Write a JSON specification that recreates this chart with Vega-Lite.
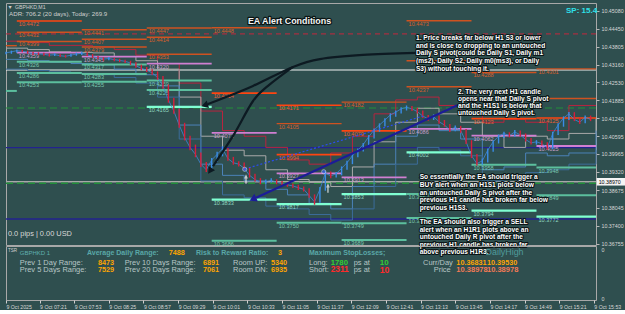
{
"$schema": "https://vega.github.io/schema/vega-lite/v6.json",
"background": "#2f4f4f",
"padding": {"left": 3, "top": 2, "right": 0, "bottom": 0},
"bounds": "flush",
"config": {"font": "Liberation Sans", "view": {"stroke": "#a8a8a8", "strokeWidth": 1}, "text": {"font": "Liberation Sans"}},
"spacing": 1,
"datasets": {
"candles": [
{"t":410,"l":10.4353,"h":10.4362,"p":10.4358,"d":"u"},{"t":415,"l":10.4355,"h":10.4366,"p":10.4362,"d":"u"},{"t":420,"l":10.4359,"h":10.4370,"p":10.4366,"d":"u"},{"t":425,"l":10.4360,"h":10.4369,"p":10.4364,"d":"d"},{"t":430,"l":10.4355,"h":10.4366,"p":10.4360,"d":"d"},{"t":435,"l":10.4351,"h":10.4362,"p":10.4356,"d":"d"},{"t":440,"l":10.4350,"h":10.4360,"p":10.4355,"d":"d"},{"t":445,"l":10.4348,"h":10.4359,"p":10.4353,"d":"d"},{"t":450,"l":10.4345,"h":10.4356,"p":10.4350,"d":"d"},{"t":455,"l":10.4347,"h":10.4357,"p":10.4352,"d":"u"},{"t":460,"l":10.4343,"h":10.4354,"p":10.4348,"d":"d"},{"t":465,"l":10.4341,"h":10.4351,"p":10.4346,"d":"d"},{"t":470,"l":10.4344,"h":10.4355,"p":10.4350,"d":"u"},{"t":475,"l":10.4348,"h":10.4359,"p":10.4354,"d":"u"},{"t":480,"l":10.4351,"h":10.4362,"p":10.4357,"d":"u"},{"t":485,"l":10.4347,"h":10.4360,"p":10.4352,"d":"d"},{"t":490,"l":10.4339,"h":10.4354,"p":10.4345,"d":"d"},{"t":495,"l":10.4335,"h":10.4347,"p":10.4340,"d":"d"},{"t":500,"l":10.4330,"h":10.4342,"p":10.4336,"d":"d"},{"t":505,"l":10.4332,"h":10.4343,"p":10.4338,"d":"u"},{"t":510,"l":10.4328,"h":10.4340,"p":10.4334,"d":"d"},{"t":515,"l":10.4325,"h":10.4337,"p":10.4331,"d":"d"},{"t":520,"l":10.4322,"h":10.4334,"p":10.4328,"d":"d"},{"t":525,"l":10.4315,"h":10.4330,"p":10.4322,"d":"d"},{"t":530,"l":10.4305,"h":10.4325,"p":10.4312,"d":"d"},{"t":535,"l":10.4296,"h":10.4316,"p":10.4303,"d":"d"},{"t":540,"l":10.4290,"h":10.4308,"p":10.4296,"d":"d"},{"t":545,"l":10.4280,"h":10.4300,"p":10.4287,"d":"d"},{"t":550,"l":10.4262,"h":10.4292,"p":10.4270,"d":"d"},{"t":555,"l":10.4230,"h":10.4275,"p":10.4240,"d":"d"},{"t":560,"l":10.4180,"h":10.4245,"p":10.4190,"d":"d"},{"t":565,"l":10.4140,"h":10.4198,"p":10.4150,"d":"d"},{"t":570,"l":10.4090,"h":10.4158,"p":10.4100,"d":"d"},{"t":575,"l":10.4045,"h":10.4108,"p":10.4055,"d":"d"},{"t":580,"l":10.4010,"h":10.4062,"p":10.4020,"d":"d"},{"t":585,"l":10.3985,"h":10.4030,"p":10.3995,"d":"d"},{"t":590,"l":10.3950,"h":10.4002,"p":10.3960,"d":"d"},{"t":595,"l":10.3932,"h":10.3968,"p":10.3940,"d":"d"},{"t":600,"l":10.3938,"h":10.3982,"p":10.3975,"d":"u"},{"t":605,"l":10.3968,"h":10.4004,"p":10.3995,"d":"u"},{"t":610,"l":10.3988,"h":10.4024,"p":10.4015,"d":"u"},{"t":615,"l":10.3972,"h":10.4018,"p":10.3980,"d":"d"},{"t":620,"l":10.3958,"h":10.3986,"p":10.3965,"d":"d"},{"t":625,"l":10.3952,"h":10.3970,"p":10.3960,"d":"d"},{"t":630,"l":10.3938,"h":10.3966,"p":10.3945,"d":"d"},{"t":635,"l":10.3912,"h":10.3950,"p":10.3920,"d":"d"},{"t":640,"l":10.3898,"h":10.3926,"p":10.3905,"d":"d"},{"t":645,"l":10.3888,"h":10.3910,"p":10.3895,"d":"d"},{"t":650,"l":10.3890,"h":10.3905,"p":10.3898,"d":"u"},{"t":655,"l":10.3894,"h":10.3910,"p":10.3902,"d":"u"},{"t":660,"l":10.3888,"h":10.3906,"p":10.3895,"d":"d"},{"t":665,"l":10.3882,"h":10.3900,"p":10.3890,"d":"d"},{"t":670,"l":10.3879,"h":10.3895,"p":10.3886,"d":"d"},{"t":675,"l":10.3875,"h":10.3891,"p":10.3882,"d":"d"},{"t":680,"l":10.3868,"h":10.3886,"p":10.3876,"d":"d"},{"t":685,"l":10.3862,"h":10.3880,"p":10.3870,"d":"d"},{"t":690,"l":10.3840,"h":10.3874,"p":10.3848,"d":"d"},{"t":695,"l":10.3815,"h":10.3852,"p":10.3825,"d":"d"},{"t":700,"l":10.3822,"h":10.3878,"p":10.3870,"d":"u"},{"t":705,"l":10.3865,"h":10.3936,"p":10.3928,"d":"u"},{"t":710,"l":10.3910,"h":10.3934,"p":10.3918,"d":"d"},{"t":715,"l":10.3912,"h":10.3932,"p":10.3926,"d":"u"},{"t":720,"l":10.3920,"h":10.3952,"p":10.3945,"d":"u"},{"t":725,"l":10.3940,"h":10.3972,"p":10.3965,"d":"u"},{"t":730,"l":10.3960,"h":10.3996,"p":10.3990,"d":"u"},{"t":735,"l":10.3985,"h":10.4016,"p":10.4010,"d":"u"},{"t":740,"l":10.4005,"h":10.4036,"p":10.4030,"d":"u"},{"t":745,"l":10.4026,"h":10.4064,"p":10.4058,"d":"u"},{"t":750,"l":10.4052,"h":10.4088,"p":10.4082,"d":"u"},{"t":755,"l":10.4076,"h":10.4106,"p":10.4100,"d":"u"},{"t":760,"l":10.4095,"h":10.4124,"p":10.4118,"d":"u"},{"t":765,"l":10.4112,"h":10.4142,"p":10.4136,"d":"u"},{"t":770,"l":10.4130,"h":10.4152,"p":10.4146,"d":"u"},{"t":775,"l":10.4141,"h":10.4164,"p":10.4158,"d":"u"},{"t":780,"l":10.4152,"h":10.4170,"p":10.4163,"d":"u"},{"t":785,"l":10.4150,"h":10.4168,"p":10.4158,"d":"d"},{"t":790,"l":10.4141,"h":10.4162,"p":10.4148,"d":"d"},{"t":795,"l":10.4125,"h":10.4152,"p":10.4132,"d":"d"},{"t":800,"l":10.4115,"h":10.4136,"p":10.4122,"d":"d"},{"t":805,"l":10.4118,"h":10.4138,"p":10.4130,"d":"u"},{"t":810,"l":10.4105,"h":10.4134,"p":10.4112,"d":"d"},{"t":815,"l":10.4094,"h":10.4118,"p":10.4100,"d":"d"},{"t":820,"l":10.4075,"h":10.4104,"p":10.4082,"d":"d"},{"t":825,"l":10.4078,"h":10.4098,"p":10.4092,"d":"u"},{"t":830,"l":10.4072,"h":10.4097,"p":10.4080,"d":"d"},{"t":835,"l":10.4032,"h":10.4086,"p":10.4040,"d":"d"},{"t":840,"l":10.3982,"h":10.4046,"p":10.3990,"d":"d"},{"t":845,"l":10.3955,"h":10.3996,"p":10.3962,"d":"d"},{"t":850,"l":10.3958,"h":10.3980,"p":10.3972,"d":"u"},{"t":855,"l":10.3966,"h":10.4016,"p":10.4010,"d":"u"},{"t":860,"l":10.4004,"h":10.4046,"p":10.4040,"d":"u"},{"t":865,"l":10.4034,"h":10.4066,"p":10.4060,"d":"u"},{"t":870,"l":10.4054,"h":10.4076,"p":10.4070,"d":"u"},{"t":875,"l":10.4056,"h":10.4074,"p":10.4062,"d":"d"},{"t":880,"l":10.4058,"h":10.4082,"p":10.4075,"d":"u"},{"t":885,"l":10.4058,"h":10.4080,"p":10.4065,"d":"d"},{"t":890,"l":10.4041,"h":10.4070,"p":10.4048,"d":"d"},{"t":895,"l":10.4030,"h":10.4054,"p":10.4036,"d":"d"},{"t":900,"l":10.4030,"h":10.4046,"p":10.4040,"d":"u"},{"t":905,"l":10.4027,"h":10.4045,"p":10.4033,"d":"d"},{"t":910,"l":10.4012,"h":10.4038,"p":10.4018,"d":"d"},{"t":915,"l":10.4014,"h":10.4076,"p":10.4070,"d":"u"},{"t":920,"l":10.4064,"h":10.4106,"p":10.4100,"d":"u"},{"t":925,"l":10.4094,"h":10.4131,"p":10.4125,"d":"u"},{"t":930,"l":10.4118,"h":10.4147,"p":10.4140,"d":"u"},{"t":935,"l":10.4114,"h":10.4146,"p":10.4120,"d":"d"},{"t":940,"l":10.4104,"h":10.4126,"p":10.4110,"d":"d"},{"t":945,"l":10.4106,"h":10.4134,"p":10.4128,"d":"u"},{"t":950,"l":10.4114,"h":10.4134,"p":10.4120,"d":"d"}
],
"bands": [
{"t":410,"p":10.4400,"b":"hi"},{"t":430,"p":10.4395,"b":"hi"},{"t":450,"p":10.4385,"b":"hi"},{"t":470,"p":10.4385,"b":"hi"},{"t":490,"p":10.4380,"b":"hi"},{"t":510,"p":10.4370,"b":"hi"},{"t":530,"p":10.4350,"b":"hi"},{"t":550,"p":10.4320,"b":"hi"},{"t":570,"p":10.4250,"b":"hi"},{"t":590,"p":10.4150,"b":"hi"},{"t":610,"p":10.4080,"b":"hi"},{"t":630,"p":10.4060,"b":"hi"},{"t":650,"p":10.4020,"b":"hi"},{"t":670,"p":10.3975,"b":"hi"},{"t":690,"p":10.3960,"b":"hi"},{"t":710,"p":10.4000,"b":"hi"},{"t":730,"p":10.4060,"b":"hi"},{"t":750,"p":10.4140,"b":"hi"},{"t":770,"p":10.4190,"b":"hi"},{"t":790,"p":10.4200,"b":"hi"},{"t":810,"p":10.4170,"b":"hi"},{"t":830,"p":10.4150,"b":"hi"},{"t":850,"p":10.4110,"b":"hi"},{"t":870,"p":10.4120,"b":"hi"},{"t":890,"p":10.4110,"b":"hi"},{"t":910,"p":10.4080,"b":"hi"},{"t":930,"p":10.4170,"b":"hi"},{"t":955,"p":10.4170,"b":"hi"},
{"t":410,"p":10.4375,"b":"mid"},{"t":430,"p":10.4370,"b":"mid"},{"t":450,"p":10.4362,"b":"mid"},{"t":470,"p":10.4360,"b":"mid"},{"t":490,"p":10.4358,"b":"mid"},{"t":510,"p":10.4345,"b":"mid"},{"t":530,"p":10.4330,"b":"mid"},{"t":550,"p":10.4300,"b":"mid"},{"t":570,"p":10.4200,"b":"mid"},{"t":590,"p":10.4060,"b":"mid"},{"t":610,"p":10.4010,"b":"mid"},{"t":630,"p":10.3990,"b":"mid"},{"t":650,"p":10.3940,"b":"mid"},{"t":670,"p":10.3905,"b":"mid"},{"t":690,"p":10.3895,"b":"mid"},{"t":710,"p":10.3880,"b":"mid"},{"t":730,"p":10.3950,"b":"mid"},{"t":750,"p":10.4040,"b":"mid"},{"t":770,"p":10.4110,"b":"mid"},{"t":790,"p":10.4160,"b":"mid"},{"t":810,"p":10.4140,"b":"mid"},{"t":830,"p":10.4110,"b":"mid"},{"t":850,"p":10.4060,"b":"mid"},{"t":870,"p":10.4020,"b":"mid"},{"t":890,"p":10.4060,"b":"mid"},{"t":910,"p":10.4050,"b":"mid"},{"t":930,"p":10.4070,"b":"mid"},{"t":955,"p":10.4125,"b":"mid"},
{"t":410,"p":10.4335,"b":"lo"},{"t":430,"p":10.4330,"b":"lo"},{"t":450,"p":10.4325,"b":"lo"},{"t":470,"p":10.4320,"b":"lo"},{"t":490,"p":10.4315,"b":"lo"},{"t":510,"p":10.4300,"b":"lo"},{"t":530,"p":10.4280,"b":"lo"},{"t":550,"p":10.4240,"b":"lo"},{"t":570,"p":10.4100,"b":"lo"},{"t":590,"p":10.3960,"b":"lo"},{"t":610,"p":10.3920,"b":"lo"},{"t":630,"p":10.3900,"b":"lo"},{"t":650,"p":10.3870,"b":"lo"},{"t":670,"p":10.3850,"b":"lo"},{"t":690,"p":10.3820,"b":"lo"},{"t":710,"p":10.3800,"b":"lo"},{"t":730,"p":10.3880,"b":"lo"},{"t":750,"p":10.3960,"b":"lo"},{"t":770,"p":10.4060,"b":"lo"},{"t":790,"p":10.4100,"b":"lo"},{"t":810,"p":10.4080,"b":"lo"},{"t":830,"p":10.4050,"b":"lo"},{"t":850,"p":10.3940,"b":"lo"},{"t":870,"p":10.3950,"b":"lo"},{"t":890,"p":10.4000,"b":"lo"},{"t":910,"p":10.3990,"b":"lo"},{"t":930,"p":10.4000,"b":"lo"},{"t":955,"p":10.4080,"b":"lo"},
{"t":410,"p":10.4300,"b":"lo2"},{"t":430,"p":10.4295,"b":"lo2"},{"t":450,"p":10.4290,"b":"lo2"},{"t":470,"p":10.4285,"b":"lo2"},{"t":490,"p":10.4280,"b":"lo2"},{"t":510,"p":10.4270,"b":"lo2"},{"t":530,"p":10.4250,"b":"lo2"},{"t":550,"p":10.4200,"b":"lo2"},{"t":570,"p":10.4050,"b":"lo2"},{"t":590,"p":10.3900,"b":"lo2"},{"t":610,"p":10.3850,"b":"lo2"},{"t":630,"p":10.3840,"b":"lo2"},{"t":650,"p":10.3810,"b":"lo2"},{"t":670,"p":10.3800,"b":"lo2"},{"t":690,"p":10.3780,"b":"lo2"},{"t":710,"p":10.3760,"b":"lo2"},{"t":730,"p":10.3800,"b":"lo2"},{"t":750,"p":10.3880,"b":"lo2"},{"t":770,"p":10.3960,"b":"lo2"},{"t":790,"p":10.4020,"b":"lo2"},{"t":810,"p":10.4010,"b":"lo2"},{"t":830,"p":10.3990,"b":"lo2"},{"t":850,"p":10.3900,"b":"lo2"},{"t":870,"p":10.3890,"b":"lo2"},{"t":890,"p":10.3930,"b":"lo2"},{"t":910,"p":10.3940,"b":"lo2"},{"t":930,"p":10.3960,"b":"lo2"},{"t":955,"p":10.4010,"b":"lo2"}
],
"hlines": [
{"t":410,"t2":955,"p":10.4426,"k":"ph"},{"t":410,"t2":955,"p":10.4297,"k":"do"},{"t":410,"t2":955,"p":10.4161,"k":"ws1"},{"t":410,"t2":955,"p":10.4019,"k":"wp"},{"t":410,"t2":955,"p":10.3897,"k":"bid"},{"t":410,"t2":955,"p":10.3892,"k":"ws2"},{"t":410,"t2":955,"p":10.3764,"k":"ws3"}
],
"levels": [
{"t":410,"t2":420,"p":10.4384,"k":"R","h":1},{"t":410,"t2":420,"p":10.4222,"k":"S","h":1},
{"t":420,"t2":480,"p":10.4472,"k":"R*"},{"t":420,"t2":480,"p":10.4432,"k":"R"},{"t":420,"t2":480,"p":10.4399,"k":"R"},{"t":420,"t2":480,"p":10.4359,"k":"P"},{"t":420,"t2":480,"p":10.4326,"k":"S"},{"t":420,"t2":480,"p":10.4286,"k":"S"},{"t":420,"t2":480,"p":10.4253,"k":"S"},
{"t":480,"t2":540,"p":10.4441,"k":"R"},{"t":480,"t2":540,"p":10.4407,"k":"R"},{"t":480,"t2":540,"p":10.4379,"k":"R"},{"t":480,"t2":540,"p":10.4345,"k":"P"},{"t":480,"t2":540,"p":10.4317,"k":"S"},{"t":480,"t2":540,"p":10.4283,"k":"S"},{"t":480,"t2":540,"p":10.4255,"k":"S"},
{"t":540,"t2":600,"p":10.4447,"k":"R"},{"t":540,"t2":600,"p":10.4414,"k":"R"},{"t":540,"t2":600,"p":10.4353,"k":"R"},{"t":540,"t2":600,"p":10.4320,"k":"P"},{"t":540,"t2":600,"p":10.4259,"k":"S"},{"t":540,"t2":600,"p":10.4225,"k":"S"},{"t":540,"t2":600,"p":10.4165,"k":"S*"},
{"t":600,"t2":660,"p":10.4448,"k":"R"},{"t":600,"t2":660,"p":10.4214,"k":"R*"},{"t":600,"t2":660,"p":10.4072,"k":"P"},{"t":600,"t2":660,"p":10.3833,"k":"S*"},{"t":600,"t2":660,"p":10.3686,"k":"S"},
{"t":660,"t2":720,"p":10.4171,"k":"R*"},{"t":660,"t2":720,"p":10.4105,"k":"R"},{"t":660,"t2":720,"p":10.3994,"k":"R*"},{"t":660,"t2":720,"p":10.3927,"k":"P"},{"t":660,"t2":720,"p":10.3817,"k":"S*"},{"t":660,"t2":720,"p":10.3750,"k":"S"},
{"t":720,"t2":780,"p":10.4182,"k":"R"},{"t":720,"t2":780,"p":10.4079,"k":"R*"},{"t":720,"t2":780,"p":10.3913,"k":"P"},{"t":720,"t2":780,"p":10.3853,"k":"S*"},{"t":720,"t2":780,"p":10.3749,"k":"S"},{"t":720,"t2":780,"p":10.3689,"k":"S"},
{"t":780,"t2":840,"p":10.4473,"k":"R"},{"t":780,"t2":840,"p":10.4330,"k":"R","h":1},{"t":780,"t2":840,"p":10.4237,"k":"R"},{"t":780,"t2":840,"p":10.4086,"k":"P"},{"t":780,"t2":840,"p":10.4002,"k":"S*"},{"t":780,"t2":840,"p":10.3853,"k":"S"},{"t":780,"t2":840,"p":10.3767,"k":"S"},
{"t":840,"t2":900,"p":10.4288,"k":"R"},{"t":840,"t2":900,"p":10.4123,"k":"R*"},{"t":840,"t2":900,"p":10.4062,"k":"P"},{"t":840,"t2":900,"p":10.3958,"k":"S"},{"t":840,"t2":900,"p":10.3794,"k":"S*"},
{"t":900,"t2":955,"p":10.4301,"k":"R"},{"t":900,"t2":955,"p":10.4195,"k":"R","h":1},{"t":900,"t2":955,"p":10.4125,"k":"R*"},{"t":900,"t2":955,"p":10.4025,"k":"P"},{"t":900,"t2":955,"p":10.3948,"k":"S"},{"t":900,"t2":955,"p":10.3849,"k":"S"},{"t":900,"t2":955,"p":10.3772,"k":"S*"}
],
"arrows": [
{"t":788.7,"p":10.4358,"a":"c1","o":1},{"t":739.8,"p":10.4351,"a":"c1","o":2},{"t":700.0,"p":10.4336,"a":"c1","o":3},{"t":675.1,"p":10.4308,"a":"c1","o":4},{"t":638.2,"p":10.4240,"a":"c1","o":5},{"t":604.0,"p":10.4186,"a":"c1","o":6},{"t":596.0,"p":10.4175,"a":"c1","o":7},
{"t":675.1,"p":10.4308,"a":"c2","o":1},{"t":652.0,"p":10.4240,"a":"c2","o":2},{"t":638.2,"p":10.4186,"a":"c2","o":3},{"t":619.7,"p":10.4061,"a":"c2","o":4},{"t":601.2,"p":10.3953,"a":"c2","o":5},
{"t":827.5,"p":10.41717,"a":"s","o":1},{"t":641.0,"p":10.38400,"a":"s","o":2}
],
"heads": [
{"t":594.5,"p":10.4172,"a":"c1"},{"t":599.0,"p":10.3939,"a":"c2"},{"t":639.0,"p":10.38365,"a":"s"}
],
"signals": [
{"t":630.8,"p":10.3943,"g":"dl"},{"t":795.2,"p":10.4132,"g":"dl"},
{"t":630.5,"p":10.39416,"g":"dot"},{"t":703.5,"p":10.3933,"g":"dot"},
{"t":631.7,"p":10.39069,"g":"buy"},{"t":707.4,"p":10.38747,"g":"buy"}
],
"notes": [
{"t":633.5,"p":10.44722,"s":"EA Alert Conditions","g":"title"},
{"t":788.7,"p":10.44125,"s":"1. Price breaks far below H1 S3 or lower","g":"box"},
{"t":788.7,"p":10.43842,"s":"and is close to dropping to an untouched","g":"box"},
{"t":788.7,"p":10.43563,"s":"Daily S pivot(could be Daily S1, Daily m1","g":"box"},
{"t":788.7,"p":10.43288,"s":"(ms2), Daily S2, Daily m0(ms3), or Daily","g":"box"},
{"t":788.7,"p":10.43012,"s":"S3) without touching it.","g":"box"},
{"t":827.5,"p":10.42193,"s":"2. The very next H1 candle","g":"box"},
{"t":827.5,"p":10.41917,"s":"opens near that Daily S pivot","g":"box"},
{"t":827.5,"p":10.41670,"s":"and the H1S1 is below that","g":"box"},
{"t":827.5,"p":10.41413,"s":"untouched Daily S pivot.","g":"box"},
{"t":792.1,"p":10.39141,"s":"So essentially the EA should trigger a","g":"box"},
{"t":792.1,"p":10.38862,"s":"BUY alert when an H1S1 plots below","g":"box"},
{"t":792.1,"p":10.38586,"s":"an untouched Daily S pivot after the","g":"box"},
{"t":792.1,"p":10.38311,"s":"previous H1 candle has broken far below","g":"box"},
{"t":792.1,"p":10.38039,"s":"previous H1S3.","g":"box"},
{"t":792.1,"p":10.37531,"s":"The EA should also trigger a SELL","g":"box"},
{"t":792.1,"p":10.37262,"s":"alert when an H1R1 plots above an","g":"box"},
{"t":792.1,"p":10.36994,"s":"untouched Daily R pivot after the","g":"box"},
{"t":792.1,"p":10.36722,"s":"previous H1 candle has broken far","g":"box"},
{"t":792.1,"p":10.36450,"s":"above previous H1R3.","g":"box"}
],
"infos": [
{"t":411.5,"p":10.45223,"s":"▼","g":"sym"},
{"t":418.3,"p":10.45223,"s":"GBPHKD,M1","g":"sym"},
{"t":412.8,"p":10.44962,"s":"ADR: 706.2 (20 days), Today: 269.9","g":"adr"},
{"t":411.8,"p":10.37091,"s":"0.0 pips | 0.00 USD","g":"pips"},
{"t":927.3,"p":10.4508,"s":"SP: 15.4","g":"sp"}
],
"bid": [
{"t":955.6,"t2":984,"p":10.39105,"p2":10.38835,"m":10.3897,"s":"10.38970"}
],
"panel": [
{"t":411.8,"v":90.7,"s":"TSR","r":"tsr"},
{"t":422.7,"v":87.6,"s":"GBPHKD 1","r":"sym"},
{"t":484.8,"v":87.6,"s":"Average Daily Range:","r":"head"},
{"t":560.3,"v":87.6,"s":"7488","r":"val"},
{"t":585.5,"v":87.6,"s":"Risk to Reward Ratio:","r":"head"},
{"t":661.2,"v":87.6,"s":"3","r":"val"},
{"t":689.9,"v":87.6,"s":"Maximum StopLosses;","r":"head"},
{"t":853.0,"v":89.4,"s":"DailyHigh","r":"dh"},
{"t":422.7,"v":69.1,"s":"Prev 1 Day Range:","r":"lab"},
{"t":495.0,"v":69.1,"s":"8473","r":"val"},
{"t":519.6,"v":69.1,"s":"Prev 10 Days Range:","r":"lab"},
{"t":592.0,"v":69.1,"s":"6891","r":"val"},
{"t":619.7,"v":69.1,"s":"Room UP:","r":"lab"},
{"t":654.8,"v":69.1,"s":"5340","r":"val"},
{"t":689.9,"v":69.1,"s":"Long:","r":"lab"},
{"t":731.2,"v":69.1,"s":"ps at","r":"lab"},
{"t":709.9,"v":69.1,"s":"1780","r":"long"},
{"t":755.2,"v":69.1,"s":"10","r":"longn"},
{"t":795.2,"v":69.1,"s":"Curr/Day","r":"lab"},
{"t":826.0,"v":69.1,"s":"10.36831","r":"val"},
{"t":854.3,"v":69.1,"s":"10.39530","r":"val"},
{"t":422.7,"v":55.0,"s":"Prev 5 Days Range:","r":"lab"},
{"t":495.0,"v":55.0,"s":"7529","r":"val"},
{"t":519.6,"v":55.0,"s":"Prev 20 Days Range:","r":"lab"},
{"t":592.0,"v":55.0,"s":"7061","r":"val"},
{"t":619.7,"v":55.0,"s":"Room DN:","r":"lab"},
{"t":654.8,"v":55.0,"s":"6935","r":"val"},
{"t":689.9,"v":55.0,"s":"Short:","r":"lab"},
{"t":731.2,"v":55.0,"s":"ps at","r":"lab"},
{"t":709.9,"v":55.0,"s":"2311","r":"short"},
{"t":755.2,"v":55.0,"s":"10","r":"shortn"},
{"t":805.1,"v":55.0,"s":"Price","r":"lab"},
{"t":826.0,"v":55.0,"s":"10.38978","r":"price"},
{"t":854.3,"v":55.0,"s":"10.38978","r":"price"}
],
"ticks": [
{"p":10.4508},{"p":10.4445},{"p":10.43805},{"p":10.4316},{"p":10.4253},{"p":10.41885},{"p":10.4124},{"p":10.40595},{"p":10.39965},{"p":10.3932},{"p":10.38675},{"p":10.38045},{"p":10.374},{"p":10.36755}
]
},
"vconcat": [
{
"width": 590, "height": 242,
"encoding": {
"x": {"field": "t", "type": "quantitative", "scale": {"domain": [410, 955], "nice": false, "zero": false}, "axis": null},
"y": {"field": "p", "type": "quantitative", "scale": {"domain": [10.36708, 10.45366], "nice": false, "zero": false},
"axis": {"orient": "right", "values": [10.4508, 10.4445, 10.43805, 10.4316, 10.4253, 10.41885, 10.4124, 10.40595, 10.39965, 10.3932, 10.38675, 10.38045, 10.374, 10.36755], "format": ".5f", "title": null, "domain": false, "grid": false, "tickSize": 3, "tickColor": "#b8b8b8", "labelColor": "#d8d8d8", "labelFont": "Liberation Sans", "labelFontSize": 5.3, "labelPadding": 2}}
},
"resolve": {"scale": {"color": "independent", "size": "independent", "strokeDash": "independent"}},
"layer": [
{"data": {"name": "hlines"}, "mark": {"type": "rule"},
"encoding": {"x2": {"field": "t2"},
"color": {"field": "k", "type": "nominal", "legend": null, "scale": {"domain": ["ph","do","ws1","wp","bid","ws2","ws3"], "range": ["#c4283e","#f2f2f2","#22903a","#23238e","#a8a8a8","#22903a","#23238e"]}},
"strokeDash": {"field": "k", "type": "nominal", "legend": null, "scale": {"domain": ["ph","do","ws1","wp","bid","ws2","ws3"], "range": [[5,4],[1,0],[7,4],[1,0],[1,0],[7,4],[1,0]]}},
"size": {"field": "k", "type": "nominal", "legend": null, "scale": {"domain": ["ph","do","ws1","wp","bid","ws2","ws3"], "range": [1,1.5,1.2,1.6,1,1.2,1.6]}}}},
{"data": {"name": "bands"}, "mark": {"type": "line", "interpolate": "step-after", "strokeWidth": 1},
"encoding": {"color": {"field": "b", "type": "nominal", "legend": null, "scale": {"domain": ["hi","mid","lo","lo2"], "range": ["#b8243f","#a9a9a9","#4b82b8","#3c6c9a"]}}}},
{"data": {"name": "levels"}, "mark": {"type": "rule"},
"encoding": {"x2": {"field": "t2"},
"color": {"field": "k", "type": "nominal", "legend": null, "scale": {"domain": ["R","R*","P","S","S*"], "range": ["#cf5220","#ff4510","#d07fd2","#5cbf9e","#80ffd2"]}},
"size": {"field": "k", "type": "nominal", "legend": null, "scale": {"domain": ["R","R*","P","S","S*"], "range": [1.4,2.2,1.5,1.4,2.2]}}}},
{"data": {"name": "levels"}, "transform": [{"filter": "datum.h != 1"}],
"mark": {"type": "text", "align": "left", "baseline": "top", "dx": 2, "dy": 1, "fontSize": 5.6},
"encoding": {"text": {"field": "p", "type": "quantitative", "format": ".4f"},
"color": {"field": "k", "type": "nominal", "legend": null, "scale": {"domain": ["R","R*","P","S","S*"], "range": ["#d8602e","#e8603a","#c9a0c9","#7ac8ae","#8fd8c0"]}}}},
{"data": {"name": "candles"}, "mark": {"type": "line", "strokeWidth": 0.8, "color": "#3d86d8"}},
{"data": {"name": "candles"}, "mark": {"type": "rule", "strokeWidth": 1.4},
"encoding": {"y": {"field": "l", "type": "quantitative"}, "y2": {"field": "h"},
"color": {"field": "d", "type": "nominal", "legend": null, "scale": {"domain": ["u","d"], "range": ["#3a8ce6","#d61f3c"]}}}},
{"data": {"name": "signals"}, "transform": [{"filter": "datum.g == 'dl'"}], "mark": {"type": "line", "color": "#2b4ef0", "strokeWidth": 1.2, "strokeDash": [2,2]}},
{"data": {"name": "signals"}, "transform": [{"filter": "datum.g == 'dot'"}], "mark": {"type": "point", "filled": true, "color": "#3a66f0", "size": 18, "stroke": "#ffffff", "strokeWidth": 0.6}},
{"data": {"name": "signals"}, "transform": [{"filter": "datum.g == 'buy'"}], "mark": {"type": "point", "shape": "arrow", "filled": true, "color": "#ffffff", "size": 90}},
{"data": {"name": "arrows"}, "mark": {"type": "line", "interpolate": "cardinal"},
"encoding": {"detail": {"field": "a"}, "order": {"field": "o", "type": "quantitative"},
"color": {"field": "a", "type": "nominal", "legend": null, "scale": {"domain": ["c1","c2","s"], "range": ["#0d1a22","#0d1a22","#1c1c98"]}},
"size": {"field": "a", "type": "nominal", "legend": null, "scale": {"domain": ["c1","c2","s"], "range": [2.2,2.2,2.6]}}}},
{"data": {"name": "heads"}, "transform": [{"filter": "datum.a == 'c1'"}], "mark": {"type": "point", "shape": "triangle", "filled": true, "color": "#0d1a22", "size": 60, "angle": 253, "opacity": 1}},
{"data": {"name": "heads"}, "transform": [{"filter": "datum.a == 'c2'"}], "mark": {"type": "point", "shape": "triangle", "filled": true, "color": "#0d1a22", "size": 60, "angle": 213, "opacity": 1}},
{"data": {"name": "heads"}, "transform": [{"filter": "datum.a == 's'"}], "mark": {"type": "point", "shape": "triangle", "filled": true, "color": "#1c1c98", "size": 70, "angle": 245, "opacity": 1}},
{"data": {"name": "notes"}, "transform": [{"filter": "datum.g == 'title'"}], "mark": {"type": "text", "align": "left", "baseline": "middle", "fontSize": 8.9, "fontWeight": "bold", "fill": "#0b1616", "stroke": "#0b1616", "strokeWidth": 2.4, "strokeJoin": "round"}, "encoding": {"text": {"field": "s"}}},
{"data": {"name": "notes"}, "transform": [{"filter": "datum.g == 'title'"}], "mark": {"type": "text", "align": "left", "baseline": "middle", "fontSize": 8.9, "fontWeight": "bold", "color": "#f4f4f4"}, "encoding": {"text": {"field": "s"}}},
{"data": {"name": "notes"}, "transform": [{"filter": "datum.g == 'box'"}], "mark": {"type": "text", "align": "left", "baseline": "middle", "fontSize": 6.6, "fontWeight": "bold", "fill": "#0b1616", "stroke": "#0b1616", "strokeWidth": 2.2, "strokeJoin": "round"}, "encoding": {"text": {"field": "s"}}},
{"data": {"name": "notes"}, "transform": [{"filter": "datum.g == 'box'"}], "mark": {"type": "text", "align": "left", "baseline": "middle", "fontSize": 6.6, "fontWeight": "bold", "color": "#ffffff"}, "encoding": {"text": {"field": "s"}}},
{"data": {"name": "infos"}, "transform": [{"filter": "datum.g == 'sym'"}], "mark": {"type": "text", "align": "left", "baseline": "middle", "fontSize": 5.2, "color": "#d0d0d0"}, "encoding": {"text": {"field": "s"}}},
{"data": {"name": "infos"}, "transform": [{"filter": "datum.g == 'adr'"}], "mark": {"type": "text", "align": "left", "baseline": "middle", "fontSize": 6.2, "color": "#cfcfcf"}, "encoding": {"text": {"field": "s"}}},
{"data": {"name": "infos"}, "transform": [{"filter": "datum.g == 'pips'"}], "mark": {"type": "text", "align": "left", "baseline": "middle", "fontSize": 7.4, "color": "#d8d8d8"}, "encoding": {"text": {"field": "s"}}},
{"data": {"name": "infos"}, "transform": [{"filter": "datum.g == 'sp'"}], "mark": {"type": "text", "align": "left", "baseline": "middle", "fontSize": 8, "fontWeight": "bold", "color": "#2ee0e8"}, "encoding": {"text": {"field": "s"}}},
{"data": {"name": "bid"}, "mark": {"type": "rect", "color": "#f4f4f4"}, "encoding": {"x2": {"field": "t2"}, "y2": {"field": "p2"}}},
{"data": {"name": "bid"}, "mark": {"type": "text", "align": "left", "baseline": "middle", "dx": 2, "fontSize": 5.3, "color": "#000000"}, "encoding": {"y": {"field": "m", "type": "quantitative"}, "text": {"field": "s"}}}
]
},
{
"width": 590, "height": 54,
"data": {"name": "panel"},
"encoding": {
"x": {"field": "t", "type": "quantitative", "scale": {"domain": [410, 955], "nice": false, "zero": false},
"axis": {"orient": "bottom", "values": [410,441,473,505,537,569,601,633,665,697,729,761,793,825,857,889,921,953], "labelExpr": "datum.value < 420 ? '9 Oct 2025' : '9 Oct ' + (floor(datum.value/60) < 10 ? '0' : '') + floor(datum.value/60) + ':' + (datum.value % 60 < 10 ? '0' : '') + (datum.value % 60)", "title": null, "domain": false, "grid": false, "tickSize": 3, "tickColor": "#d0d0d0", "labelColor": "#d8d8d8", "labelFont": "Liberation Sans", "labelFontSize": 5.2, "labelAlign": "left", "labelPadding": 1, "labelOverlap": false, "labelFlush": false, "labelBound": false}},
"y": {"field": "v", "type": "quantitative", "scale": {"domain": [0, 100], "nice": false, "zero": false},
"axis": {"orient": "right", "values": [93, 3], "labelExpr": "'0'", "title": null, "domain": false, "grid": false, "ticks": false, "labelColor": "#d8d8d8", "labelFontSize": 5.3, "labelPadding": 5}}
},
"resolve": {"scale": {"color": "independent", "size": "independent"}},
"layer": [
{"transform": [{"filter": "indexof(['tsr','sym','lab','dh'], datum.r) >= 0"}],
"mark": {"type": "text", "align": "left", "baseline": "middle"},
"encoding": {"text": {"field": "s"},
"color": {"field": "r", "type": "nominal", "legend": null, "scale": {"domain": ["tsr","sym","lab","dh"], "range": ["#d0d0d0","#5fb0b0","#b8c6c6","#4f9c9c"]}},
"size": {"field": "r", "type": "nominal", "legend": null, "scale": {"domain": ["tsr","sym","lab","dh"], "range": [4.6,8.9,7.1,7]}}}},
{"transform": [{"filter": "indexof(['tsr','sym','lab','dh'], datum.r) < 0"}],
"mark": {"type": "text", "align": "left", "baseline": "middle", "fontWeight": "bold"},
"encoding": {"text": {"field": "s"},
"color": {"field": "r", "type": "nominal", "legend": null, "scale": {"domain": ["head","val","price","long","longn","short","shortn"], "range": ["#5aa8a8","#ffa500","#f47a55","#33cc33","#33cc33","#ff2a2a","#ff2a2a"]}},
"size": {"field": "r", "type": "nominal", "legend": null, "scale": {"domain": ["head","val","price","long","longn","short","shortn"], "range": [7,8.6,8.6,10.5,8.6,10.5,8.6]}}}}
]
}
]
}
